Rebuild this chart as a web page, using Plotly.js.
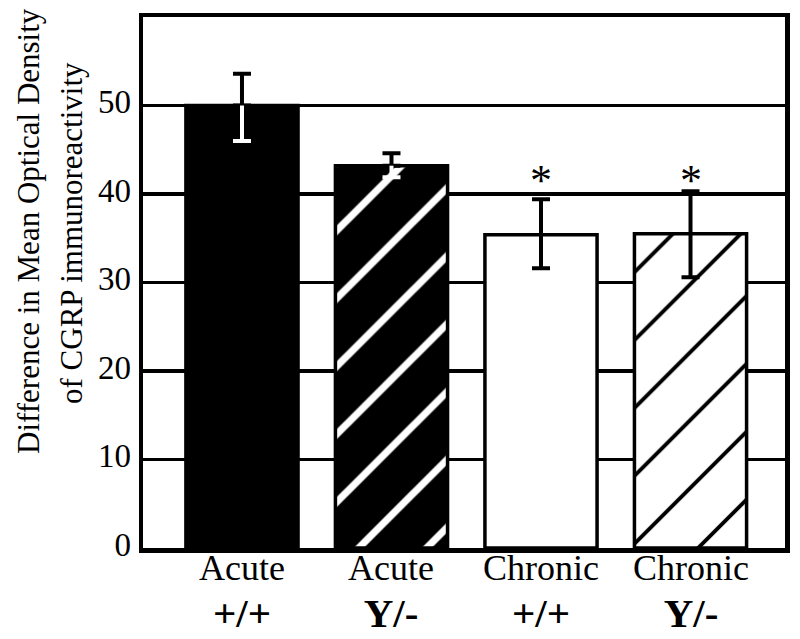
<!DOCTYPE html>
<html>
<head>
<meta charset="utf-8">
<script src="https://cdn.plot.ly/plotly-3.0.1.min.js"></script>
<style>html,body{margin:0;padding:0;background:#fff;}#chart{width:800px;height:639px;}</style>
</head>
<body>
<div id="chart"></div>
<script>
// ---- data ----
const groups     = ['Acute +/+', 'Acute Y/-', 'Chronic +/+', 'Chronic Y/-'];
const conditions = ['Acute', 'Acute', 'Chronic', 'Chronic'];
const genotypes  = ['+/+', 'Y/-', '+/+', 'Y/-'];
const means      = [50.0, 43.2, 35.4, 35.5];
const errUp      = [3.6, 1.4, 4.0, 4.8];
const errDown    = [4.0, 1.3, 3.8, 4.9];
const sigMarks   = ['', '', '*', '*'];
const yTicks     = [0, 10, 20, 30, 40, 50];
const yTitle1    = 'Difference in Mean Optical Density';
const yTitle2    = 'of CGRP immunoreactivity';

// ---- styles ----
const FONT = '"Liberation Serif", serif';
const fills     = ['black', 'black', 'white', 'white'];
const patShapes = ['', '/', '', '/'];
const patFg     = ['black', 'white', 'black', 'black'];
const patSol    = [0.1, 0.15, 0.1, 0.08];
const insideWhite = [true, true, false, false];

const pick = (arr, idx) => idx.map(i => arr[i]);
const wIdx = [0,1,2,3].filter(i => insideWhite[i]);
const bIdx = [0,1,2,3].filter(i => !insideWhite[i]);

const traces = [];
groups.forEach((g, i) => {
  const marker = {color: fills[i], line: {color: 'black', width: 3.5}};
  if (patShapes[i]) {
    marker.pattern = {shape: patShapes[i], fgcolor: patFg[i], bgcolor: fills[i], size: 48,
                      solidity: patSol[i], fillmode: 'overlay', fgopacity: 1};
  }
  traces.push({type: 'bar', x: [g], y: [means[i]], width: 0.75, marker: marker,
               hoverinfo: 'skip', showlegend: false});
});
const hidden = {color: 'rgba(0,0,0,0)', size: 1};
traces.push({
  type: 'scatter', mode: 'markers', x: pick(groups, wIdx), y: pick(means, wIdx), marker: hidden,
  error_y: {type: 'data', symmetric: false, array: pick(errUp, wIdx), arrayminus: wIdx.map(() => 0),
            color: 'black', thickness: 4, width: 9},
  hoverinfo: 'skip', showlegend: false
});
traces.push({
  type: 'scatter', mode: 'markers', x: pick(groups, wIdx), y: pick(means, wIdx), marker: hidden,
  error_y: {type: 'data', symmetric: false, array: wIdx.map(() => 0), arrayminus: pick(errDown, wIdx),
            color: 'white', thickness: 4, width: 0},
  hoverinfo: 'skip', showlegend: false
});
traces.push({
  type: 'scatter', mode: 'markers', x: pick(groups, wIdx), y: wIdx.map(i => means[i] - errDown[i]), marker: hidden,
  error_y: {type: 'data', array: wIdx.map(() => 0), color: 'white', thickness: 4, width: 9},
  hoverinfo: 'skip', showlegend: false
});
traces.push({
  type: 'scatter', mode: 'markers', x: pick(groups, bIdx), y: pick(means, bIdx), marker: hidden,
  error_y: {type: 'data', symmetric: false, array: pick(errUp, bIdx), arrayminus: pick(errDown, bIdx),
            color: 'black', thickness: 4, width: 9},
  hoverinfo: 'skip', showlegend: false
});

const annotations = [];
groups.forEach((g, i) => {
  annotations.push({
    xref: 'x', yref: 'paper', x: g, y: 0, yanchor: 'bottom', xanchor: 'center',
    yshift: -89, showarrow: false, borderpad: 0,
    text: conditions[i] + '<br><b><span style="font-size:41px">' + genotypes[i] + '</span></b>',
    font: {family: FONT, size: 36, color: 'black'}
  });
  if (sigMarks[i]) {
    annotations.push({
      xref: 'x', yref: 'y', x: g, y: 42.2, yanchor: 'middle', xanchor: 'center', yshift: -6,
      showarrow: false, text: sigMarks[i], font: {family: FONT, size: 44, color: 'black'}
    });
  }
});
annotations.push({
  xref: 'paper', yref: 'paper', x: (28 - 143) / 642, y: (548 - 231) / 531, xanchor: 'center', yanchor: 'middle',
  textangle: -90, showarrow: false, text: yTitle1, font: {family: FONT, size: 31, color: 'black'}
});
annotations.push({
  xref: 'paper', yref: 'paper', x: (71 - 143) / 642, y: (548 - 233) / 531, xanchor: 'center', yanchor: 'middle',
  textangle: -90, showarrow: false, text: yTitle2, font: {family: FONT, size: 31, color: 'black'}
});

const layout = {
  width: 800, height: 639,
  font: {family: FONT, color: 'black'},
  margin: {l: 143, r: 15, t: 17, b: 91, pad: 0},
  paper_bgcolor: 'white', plot_bgcolor: 'white',
  showlegend: false, barmode: 'overlay',
  xaxis: {
    type: 'category', categoryorder: 'array', categoryarray: groups,
    range: [-0.662, 3.632], showgrid: false, zeroline: false,
    showline: true, mirror: true, linecolor: 'black', linewidth: 4.5,
    showticklabels: false, ticks: '', fixedrange: true
  },
  yaxis: {
    range: [0, 60], tickvals: yTicks, ticktext: yTicks.map(String),
    showgrid: true, gridcolor: 'black', gridwidth: 3.5, zeroline: false,
    showline: true, mirror: true, linecolor: 'black', linewidth: 4.5,
    ticks: '', ticklabelstandoff: 1, ticklabelshift: -4,
    tickfont: {family: FONT, size: 33, color: 'black'}, fixedrange: true
  },
  annotations: annotations
};

Plotly.newPlot('chart', traces, layout, {staticPlot: true, displayModeBar: false});
</script>
</body>
</html>
